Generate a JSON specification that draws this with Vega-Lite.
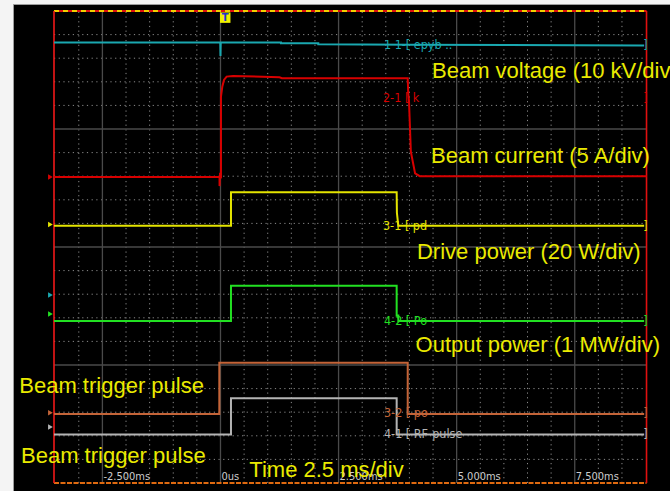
{
  "$schema": "https://vega.github.io/schema/vega-lite/v6.json",
  "width": 657,
  "height": 487,
  "autosize": {"type": "none"},
  "padding": {"left": 13, "top": 4, "right": 0, "bottom": 0},
  "background": "#f4f4f4",
  "config": {"view": {"fill": "black", "stroke": "#9c9c9c", "strokeWidth": 1}},
  "datasets": {
    "vminor": [{"t": -3.0}, {"t": -2.0}, {"t": -1.5}, {"t": -1.0}, {"t": -0.5}, {"t": 0.5}, {"t": 1.0}, {"t": 1.5}, {"t": 2.0}, {"t": 3.0}, {"t": 3.5}, {"t": 4.0}, {"t": 4.5}, {"t": 5.5}, {"t": 6.0}, {"t": 6.5}, {"t": 7.0}, {"t": 8.0}, {"t": 8.5}],
    "hminor": [{"v": 1}, {"v": 2}, {"v": 3}, {"v": 4}, {"v": 6}, {"v": 7}, {"v": 8}, {"v": 9}, {"v": 11}, {"v": 12}, {"v": 13}, {"v": 14}, {"v": 16}, {"v": 17}, {"v": 18}, {"v": 19}],
    "vmajor": [{"t": -2.5}, {"t": 0}, {"t": 2.5}, {"t": 5.0}, {"t": 7.5}],
    "hmajor": [{"v": 5}, {"v": 10}, {"v": 15}],
    "traces": [
      {"series": "Beam voltage", "i": 0, "t": -3.525, "v": 18.67},
      {"series": "Beam voltage", "i": 1, "t": -0.005, "v": 18.67},
      {"series": "Beam voltage", "i": 2, "t": 0.0, "v": 18.09},
      {"series": "Beam voltage", "i": 3, "t": 0.005, "v": 18.67},
      {"series": "Beam voltage", "i": 4, "t": 1.28, "v": 18.67},
      {"series": "Beam voltage", "i": 5, "t": 1.28, "v": 18.63},
      {"series": "Beam voltage", "i": 6, "t": 2.07, "v": 18.63},
      {"series": "Beam voltage", "i": 7, "t": 2.07, "v": 18.59},
      {"series": "Beam voltage", "i": 8, "t": 4.0, "v": 18.57},
      {"series": "Beam voltage", "i": 9, "t": 8.97, "v": 18.54},
      {"series": "Beam current", "i": 0, "t": -3.525, "v": 12.97},
      {"series": "Beam current", "i": 1, "t": -0.02, "v": 12.97},
      {"series": "Beam current", "i": 2, "t": -0.02, "v": 12.58},
      {"series": "Beam current", "i": 3, "t": -0.01, "v": 13.05},
      {"series": "Beam current", "i": 4, "t": 0.01, "v": 13.0},
      {"series": "Beam current", "i": 5, "t": 0.01, "v": 16.37},
      {"series": "Beam current", "i": 6, "t": 0.038, "v": 16.79},
      {"series": "Beam current", "i": 7, "t": 0.074, "v": 17.08},
      {"series": "Beam current", "i": 8, "t": 0.13, "v": 17.22},
      {"series": "Beam current", "i": 9, "t": 0.265, "v": 17.25},
      {"series": "Beam current", "i": 10, "t": 1.25, "v": 17.19},
      {"series": "Beam current", "i": 11, "t": 1.3, "v": 17.15},
      {"series": "Beam current", "i": 12, "t": 3.964, "v": 17.15},
      {"series": "Beam current", "i": 13, "t": 3.975, "v": 16.5},
      {"series": "Beam current", "i": 14, "t": 3.99, "v": 16.23},
      {"series": "Beam current", "i": 15, "t": 4.03, "v": 14.04},
      {"series": "Beam current", "i": 16, "t": 4.12, "v": 13.12},
      {"series": "Beam current", "i": 17, "t": 4.22, "v": 13.0},
      {"series": "Beam current", "i": 18, "t": 9.02, "v": 13.0},
      {"series": "Drive power", "i": 0, "t": -3.525, "v": 10.9},
      {"series": "Drive power", "i": 1, "t": 0.222, "v": 10.9},
      {"series": "Drive power", "i": 2, "t": 0.222, "v": 12.32},
      {"series": "Drive power", "i": 3, "t": 3.73, "v": 12.32},
      {"series": "Drive power", "i": 4, "t": 3.735, "v": 11.45},
      {"series": "Drive power", "i": 5, "t": 3.765, "v": 10.9},
      {"series": "Drive power", "i": 6, "t": 8.97, "v": 10.9},
      {"series": "Output power", "i": 0, "t": -3.525, "v": 6.86},
      {"series": "Output power", "i": 1, "t": 0.222, "v": 6.86},
      {"series": "Output power", "i": 2, "t": 0.222, "v": 8.36},
      {"series": "Output power", "i": 3, "t": 3.73, "v": 8.36},
      {"series": "Output power", "i": 4, "t": 3.73, "v": 7.1},
      {"series": "Output power", "i": 5, "t": 3.765, "v": 7.1},
      {"series": "Output power", "i": 6, "t": 3.765, "v": 6.86},
      {"series": "Output power", "i": 7, "t": 8.97, "v": 6.86},
      {"series": "Beam trigger", "i": 0, "t": -3.525, "v": 2.92},
      {"series": "Beam trigger", "i": 1, "t": -0.025, "v": 2.92},
      {"series": "Beam trigger", "i": 2, "t": -0.025, "v": 5.1},
      {"series": "Beam trigger", "i": 3, "t": 3.964, "v": 5.1},
      {"series": "Beam trigger", "i": 4, "t": 3.964, "v": 2.92},
      {"series": "Beam trigger", "i": 5, "t": 8.97, "v": 2.92},
      {"series": "RF pulse", "i": 0, "t": -3.525, "v": 2.06},
      {"series": "RF pulse", "i": 1, "t": 0.222, "v": 2.06},
      {"series": "RF pulse", "i": 2, "t": 0.222, "v": 3.59},
      {"series": "RF pulse", "i": 3, "t": 3.73, "v": 3.59},
      {"series": "RF pulse", "i": 4, "t": 3.73, "v": 2.06},
      {"series": "RF pulse", "i": 5, "t": 8.97, "v": 2.06}
    ],
    "chlabels": [
      {"series": "Beam voltage", "t": 3.46, "v": 18.55, "label": "1 1-[ epyb .."},
      {"series": "Beam current", "t": 3.44, "v": 16.31, "label": "2-1  [ k"},
      {"series": "Drive power", "t": 3.44, "v": 10.9, "label": "3-1  [ pd"},
      {"series": "Output power", "t": 3.46, "v": 6.86, "label": "4-2  [ Po"},
      {"series": "Beam trigger", "t": 3.46, "v": 2.97, "label": "3-2  [ po"},
      {"series": "RF pulse", "t": 3.46, "v": 2.08, "label": "4-1  [ RF-pulse"},
      {"series": "Beam voltage", "t": 8.95, "v": 18.55, "label": "]"},
      {"series": "Beam current", "t": 8.95, "v": 16.31, "label": "]"},
      {"series": "Drive power", "t": 8.95, "v": 10.9, "label": "]"},
      {"series": "Output power", "t": 8.95, "v": 6.86, "label": "]"},
      {"series": "Beam trigger", "t": 8.95, "v": 2.97, "label": "]"},
      {"series": "RF pulse", "t": 8.95, "v": 2.08, "label": "]"}
    ],
    "markers": [
      {"series": "Beam current", "v": 12.97},
      {"series": "Drive power", "v": 10.95},
      {"series": "Beam voltage", "v": 7.97},
      {"series": "Output power", "v": 7.16},
      {"series": "Beam trigger", "v": 2.98},
      {"series": "RF pulse", "v": 2.37}
    ],
    "timelabels": [
      {"t": -2.5, "label": "-2.500ms"},
      {"t": 0, "label": "0us"},
      {"t": 2.5, "label": "2.500ms"},
      {"t": 5.0, "label": "5.000ms"},
      {"t": 7.5, "label": "7.500ms"}
    ],
    "notes": [
      {"t": 4.478, "v": 17.16, "label": "Beam voltage (10 kV/div"},
      {"t": 4.457, "v": 13.55, "label": "Beam current (5 A/div)"},
      {"t": 4.16, "v": 9.49, "label": "Drive power (20 W/div)"},
      {"t": 4.13, "v": 5.57, "label": "Output power (1 MW/div)"},
      {"t": -4.26, "v": 3.83, "label": "Beam trigger pulse"},
      {"t": -4.224, "v": 0.83, "label": "Beam trigger pulse"},
      {"t": 0.61, "v": 0.24, "label": "Time 2.5 ms/div"}
    ],
    "trigger": [{"t": 0.1, "v": 19.72, "label": "T"}]
  },
  "encoding": {
    "x": {"type": "quantitative", "scale": {"domain": [-4.393, 9.517], "nice": false, "zero": false}, "axis": null},
    "y": {"type": "quantitative", "scale": {"domain": [-0.339, 20.297], "nice": false, "zero": false}, "axis": null}
  },
  "layer": [
    {
      "data": {"name": "vminor"},
      "mark": {"type": "rule", "color": "#8a8a8a", "strokeWidth": 1, "strokeDash": [1.2, 3.5]},
      "encoding": {"x": {"field": "t"}, "y": {"datum": 0}, "y2": {"datum": 20}}
    },
    {
      "data": {"name": "hminor"},
      "mark": {"type": "rule", "color": "#8a8a8a", "strokeWidth": 1, "strokeDash": [1.2, 3.5]},
      "encoding": {"y": {"field": "v"}, "x": {"datum": -3.525}, "x2": {"datum": 9.02}}
    },
    {
      "data": {"name": "vmajor"},
      "mark": {"type": "rule", "color": "#4a4a4a", "strokeWidth": 1.3},
      "encoding": {"x": {"field": "t"}, "y": {"datum": 0}, "y2": {"datum": 20}}
    },
    {
      "data": {"name": "hmajor"},
      "mark": {"type": "rule", "color": "#4a4a4a", "strokeWidth": 1.3},
      "encoding": {"y": {"field": "v"}, "x": {"datum": -3.525}, "x2": {"datum": 9.02}}
    },
    {
      "data": {"values": [{}]},
      "mark": {"type": "rule", "color": "#e01010", "strokeWidth": 2},
      "encoding": {"x": {"datum": -3.525}, "x2": {"datum": 9.02}, "y": {"datum": 20}}
    },
    {
      "data": {"values": [{}]},
      "mark": {"type": "rule", "color": "#f0d000", "strokeWidth": 2, "strokeDash": [5, 4]},
      "encoding": {"x": {"datum": -3.525}, "x2": {"datum": 9.02}, "y": {"datum": 20}}
    },
    {
      "data": {"values": [{}]},
      "mark": {"type": "rule", "color": "#e06a10", "strokeWidth": 2, "strokeDash": [5, 1.5]},
      "encoding": {"x": {"datum": -3.525}, "x2": {"datum": 9.02}, "y": {"datum": 0}}
    },
    {
      "data": {"values": [{}]},
      "mark": {"type": "rule", "color": "#f01818", "strokeWidth": 1.6},
      "encoding": {"x": {"datum": -3.525}, "y": {"datum": 0}, "y2": {"datum": 20}}
    },
    {
      "data": {"values": [{}]},
      "mark": {"type": "rule", "color": "#e01010", "strokeWidth": 1.6},
      "encoding": {"x": {"datum": 9.02}, "y": {"datum": 0}, "y2": {"datum": 20}}
    },
    {
      "data": {"name": "timelabels"},
      "mark": {"type": "text", "align": "left", "baseline": "middle", "dx": 1, "font": "DejaVu Sans Condensed", "fontSize": 11, "color": "#cccccc"},
      "encoding": {"x": {"field": "t"}, "y": {"datum": 0.27}, "text": {"field": "label"}}
    },
    {
      "data": {"name": "traces"},
      "mark": {"type": "line", "strokeWidth": 2, "interpolate": "linear"},
      "encoding": {
        "x": {"field": "t"},
        "y": {"field": "v"},
        "order": {"field": "i", "type": "quantitative"},
        "color": {"field": "series", "type": "nominal", "legend": null,
          "scale": {"domain": ["Beam voltage", "Beam current", "Drive power", "Output power", "Beam trigger", "RF pulse"],
                    "range": ["#1aa8b0", "#d80000", "#e4e400", "#22e022", "#c46438", "#b4b4b4"]}}
      }
    },
    {
      "data": {"name": "chlabels"},
      "mark": {"type": "text", "align": "left", "baseline": "middle", "font": "DejaVu Sans Condensed", "fontSize": 12.5},
      "encoding": {
        "x": {"field": "t"},
        "y": {"field": "v"},
        "text": {"field": "label"},
        "color": {"field": "series", "type": "nominal", "legend": null,
          "scale": {"domain": ["Beam voltage", "Beam current", "Drive power", "Output power", "Beam trigger", "RF pulse"],
                    "range": ["#1aa8b0", "#d80000", "#e4e400", "#22e022", "#c46438", "#b4b4b4"]}}
      }
    },
    {
      "data": {"name": "markers"},
      "mark": {"type": "point", "shape": "triangle-right", "filled": true, "size": 30, "opacity": 1},
      "encoding": {
        "x": {"datum": -3.6},
        "y": {"field": "v"},
        "color": {"field": "series", "type": "nominal", "legend": null,
          "scale": {"domain": ["Beam voltage", "Beam current", "Drive power", "Output power", "Beam trigger", "RF pulse"],
                    "range": ["#1aa8b0", "#d80000", "#e4e400", "#22e022", "#c46438", "#b4b4b4"]}}
      }
    },
    {
      "data": {"name": "trigger"},
      "mark": {"type": "point", "shape": "square", "filled": true, "size": 110, "color": "#f0f000", "opacity": 1},
      "encoding": {"x": {"field": "t"}, "y": {"field": "v"}}
    },
    {
      "data": {"name": "trigger"},
      "mark": {"type": "text", "align": "center", "baseline": "middle", "font": "DejaVu Sans", "fontWeight": "bold", "fontSize": 10, "color": "#2030d0"},
      "encoding": {"x": {"field": "t"}, "y": {"field": "v"}, "text": {"field": "label"}}
    },
    {
      "data": {"name": "notes"},
      "mark": {"type": "text", "align": "left", "baseline": "alphabetic", "font": "Liberation Sans", "fontSize": 22, "color": "#eaea00", "clip": true},
      "encoding": {"x": {"field": "t"}, "y": {"field": "v"}, "text": {"field": "label"}}
    }
  ]
}
